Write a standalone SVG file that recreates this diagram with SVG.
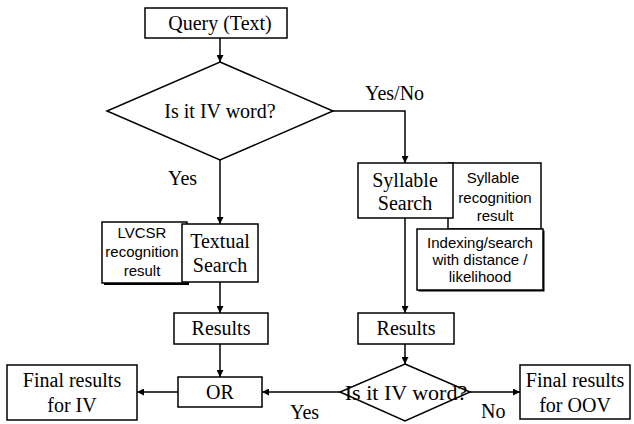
<svg xmlns="http://www.w3.org/2000/svg" width="634" height="424" viewBox="0 0 634 424">
<style>
.box{fill:#fff;stroke:#000;stroke-width:1.5}
.shadow{fill:#000;stroke:none}
.ln{fill:none;stroke:#000;stroke-width:1.5}
.s{font-family:"Liberation Serif","Times New Roman",serif;font-size:20px;fill:#000;text-anchor:middle}
.a{font-family:"Liberation Sans",Arial,sans-serif;font-size:15px;fill:#000;text-anchor:middle}
.lbl{font-family:"Liberation Serif","Times New Roman",serif;font-size:20px;fill:#000}
</style>
<defs>
<marker id="arr" viewBox="0 0 10 10" refX="10" refY="5" markerWidth="7" markerHeight="7" markerUnits="userSpaceOnUse" orient="auto">
<path d="M0,0 L10,5 L0,10 z" fill="#000"/>
</marker>
</defs>
<g id="connectors">
<path class="ln" d="M220,38 V62" marker-end="url(#arr)"/>
<path class="ln" d="M333,111 H405 V163" marker-end="url(#arr)"/>
<path class="ln" d="M220,160 V224" marker-end="url(#arr)"/>
<path class="ln" d="M220,282 V313" marker-end="url(#arr)"/>
<path class="ln" d="M405,218 V313" marker-end="url(#arr)"/>
<path class="ln" d="M220,344 V377" marker-end="url(#arr)"/>
<path class="ln" d="M405,344 V364" marker-end="url(#arr)"/>
<path class="ln" d="M178,392 H137" marker-end="url(#arr)"/>
<path class="ln" d="M340,392 H262" marker-end="url(#arr)"/>
<path class="ln" d="M470,392 H520" marker-end="url(#arr)"/>
<text class="lbl" x="365" y="100">Yes/No</text>
<text class="lbl" x="168" y="185">Yes</text>
<text class="lbl" x="290" y="419">Yes</text>
<text class="lbl" x="481" y="418">No</text>
</g>
<g id="query">
<rect class="box" x="145" y="8" width="142" height="30"/>
<text class="s" x="220" y="30">Query (Text)</text>
</g>
<g id="decision1">
<polygon class="box" points="220,62 333,111 220,160 107,111"/>
<text class="s" x="220" y="118">Is it IV word?</text>
</g>
<g id="lvcsr">
<rect class="shadow" x="104" y="224" width="85" height="61"/>
<rect class="box" x="102" y="222" width="85" height="61"/>
<text class="a" x="142" y="238">LVCSR</text>
<text class="a" x="142" y="257">recognition</text>
<text class="a" x="142" y="276">result</text>
</g>
<g id="textual">
<rect class="box" x="182" y="224" width="76" height="58"/>
<text class="s" x="220" y="248">Textual</text>
<text class="s" x="220" y="272">Search</text>
</g>
<g id="sylresult">
<rect class="box" x="448" y="163" width="93" height="66"/>
<text class="a" x="493" y="183">Syllable</text>
<text class="a" x="495" y="203">recognition</text>
<text class="a" x="495" y="221">result</text>
</g>
<g id="indexing">
<rect class="shadow" x="418.5" y="230.5" width="126" height="61"/>
<rect class="box" x="417" y="229" width="126" height="61"/>
<text class="a" x="480" y="248">Indexing/search</text>
<text class="a" x="480" y="265">with distance /</text>
<text class="a" x="480" y="282">likelihood</text>
</g>
<g id="syllable">
<rect class="box" x="358" y="163" width="95" height="55"/>
<text class="s" x="405" y="187">Syllable</text>
<text class="s" x="405" y="210">Search</text>
</g>
<g id="results1">
<rect class="box" x="174" y="313" width="94" height="31"/>
<text class="s" x="221" y="335">Results</text>
</g>
<g id="results2">
<rect class="box" x="358" y="313" width="96" height="31"/>
<text class="s" x="406" y="335">Results</text>
</g>
<g id="or">
<rect class="box" x="178" y="377" width="84" height="30"/>
<text class="s" x="220" y="399">OR</text>
</g>
<g id="final_iv">
<rect class="box" x="7" y="365" width="130" height="55"/>
<text class="s" x="72" y="387">Final results</text>
<text class="s" x="72" y="412">for IV</text>
</g>
<g id="decision2">
<polygon class="box" points="405,364 470,392 405,421 340,392"/>
<text class="s" x="406" y="400" style="font-size:22px">Is it IV word?</text>
</g>
<g id="final_oov">
<rect class="box" x="520" y="365" width="110" height="54"/>
<text class="s" x="575" y="387">Final results</text>
<text class="s" x="575" y="412">for OOV</text>
</g>
</svg>
